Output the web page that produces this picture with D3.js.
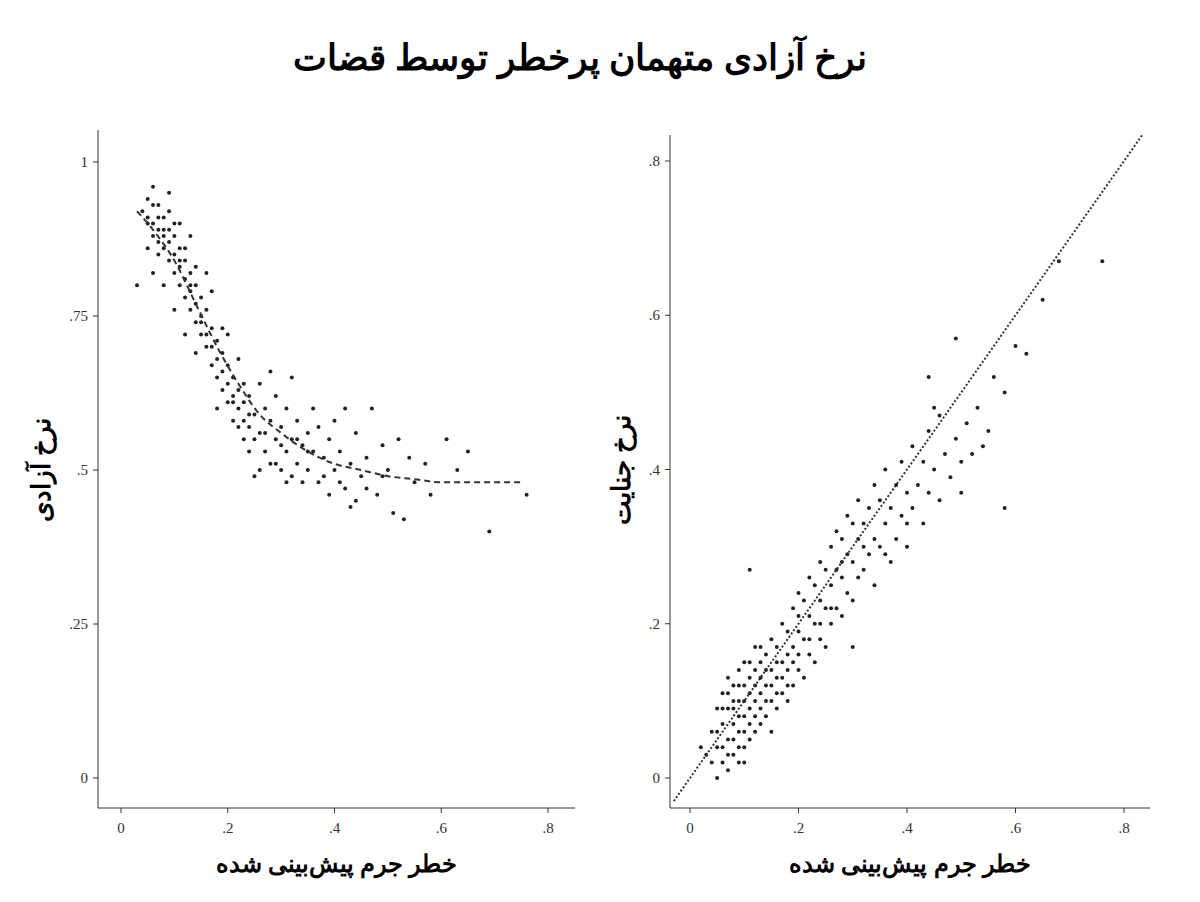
<!DOCTYPE html>
<html><head><meta charset="utf-8">
<script src="https://cdn.jsdelivr.net/npm/d3@7"></script>
<style>body{margin:0;background:#fff}</style>
</head><body>
<script>
// points (x = predicted risk, y = rate)
var releasePts = [
0.04,0.92,0.05,0.94,0.05,0.90,0.06,0.96,0.06,0.88,0.07,0.93,0.07,0.89,0.08,0.91,0.08,0.86,0.09,0.92,0.09,0.84,0.10,0.88,0.10,0.82,0.11,0.86,0.11,0.80,0.12,0.84,0.12,0.78,0.13,0.82,0.13,0.76,0.14,0.80,0.14,0.74,0.15,0.78,0.15,0.72,0.16,0.76,0.16,0.70,0.17,0.73,0.17,0.67,0.18,0.71,0.18,0.65,0.19,0.69,0.19,0.63,0.20,0.67,0.20,0.61,0.21,0.65,0.21,0.58,0.22,0.63,0.22,0.57,0.23,0.61,0.23,0.55,0.24,0.62,0.24,0.53,0.25,0.59,0.25,0.49,0.26,0.64,0.26,0.56,0.27,0.60,0.27,0.53,0.28,0.58,0.28,0.51,0.29,0.62,0.29,0.55,0.30,0.57,0.30,0.50,0.31,0.60,0.31,0.53,0.32,0.55,0.32,0.49,0.33,0.58,0.33,0.51,0.34,0.54,0.34,0.48,0.35,0.56,0.35,0.50,0.36,0.53,0.37,0.57,0.37,0.48,0.38,0.52,0.39,0.55,0.39,0.46,0.40,0.50,0.41,0.53,0.42,0.60,0.42,0.47,0.43,0.51,0.44,0.56,0.45,0.49,0.46,0.52,0.47,0.60,0.48,0.46,0.49,0.54,0.50,0.50,0.51,0.43,0.52,0.55,0.53,0.42,0.55,0.48,0.57,0.51,0.58,0.46,0.61,0.55,0.63,0.50,0.65,0.53,0.69,0.40,0.76,0.46,0.03,0.80,0.05,0.86,0.06,0.82,0.08,0.80,0.09,0.95,0.10,0.76,0.12,0.72,0.13,0.88,0.14,0.69,0.16,0.82,0.18,0.60,0.20,0.72,0.22,0.68,0.24,0.57,0.26,0.50,0.28,0.66,0.30,0.54,0.32,0.65,0.36,0.60,0.40,0.58,0.44,0.45,0.08,0.88,0.07,0.85,0.11,0.90,0.15,0.75,0.17,0.79,0.19,0.73,0.21,0.62,0.23,0.64,0.25,0.55,0.27,0.56,0.29,0.51,0.31,0.48,0.33,0.55,0.35,0.53,0.38,0.49,0.41,0.48,0.43,0.44,0.46,0.47,0.49,0.49,0.54,0.52,
0.05,0.91,0.06,0.93,0.07,0.91,0.08,0.89,0.09,0.87,0.10,0.85,0.11,0.83,0.12,0.81,0.13,0.79,0.14,0.77,0.15,0.74,0.16,0.72,0.17,0.70,0.18,0.68,0.19,0.66,0.20,0.64,0.21,0.61,0.22,0.60,0.23,0.58,0.24,0.59,0.06,0.90,0.07,0.87,0.09,0.89,0.10,0.90,0.11,0.84,0.12,0.86,0.13,0.80,0.14,0.83
];
var releaseCurveX = [0.03,0.06,0.10,0.14,0.18,0.22,0.26,0.30,0.35,0.40,0.45,0.50,0.55,0.60,0.65,0.70,0.75];
var releaseCurveY = [0.92,0.89,0.84,0.77,0.70,0.64,0.59,0.56,0.53,0.51,0.50,0.49,0.485,0.48,0.48,0.48,0.48];

var crimePts = [
0.04,0.02,0.04,0.06,0.05,0.00,0.05,0.04,0.05,0.09,0.06,0.02,0.06,0.07,0.06,0.11,0.07,0.01,0.07,0.05,0.07,0.09,0.08,0.03,0.08,0.07,0.08,0.12,0.09,0.02,0.09,0.06,0.09,0.10,0.09,0.14,0.10,0.04,0.10,0.08,0.10,0.12,0.10,0.15,0.11,0.05,0.11,0.09,0.11,0.13,0.12,0.06,0.12,0.10,0.12,0.14,0.12,0.17,0.13,0.07,0.13,0.11,0.13,0.15,0.14,0.08,0.14,0.12,0.14,0.16,0.15,0.06,0.15,0.10,0.15,0.14,0.15,0.18,0.16,0.09,0.16,0.13,0.16,0.17,0.17,0.11,0.17,0.15,0.17,0.20,0.18,0.10,0.18,0.14,0.18,0.19,0.19,0.12,0.19,0.17,0.19,0.22,0.20,0.14,0.20,0.19,0.20,0.24,0.21,0.13,0.21,0.18,0.21,0.23,0.22,0.16,0.22,0.21,0.22,0.26,0.23,0.15,0.23,0.20,0.23,0.25,0.24,0.18,0.24,0.23,0.24,0.28,0.25,0.17,0.25,0.22,0.25,0.27,0.26,0.20,0.26,0.25,0.26,0.30,0.27,0.22,0.27,0.27,0.27,0.32,0.28,0.21,0.28,0.26,0.28,0.31,0.29,0.24,0.29,0.29,0.29,0.34,0.30,0.23,0.30,0.28,0.30,0.33,0.31,0.26,0.31,0.31,0.31,0.36,0.32,0.27,0.32,0.33,0.33,0.29,0.33,0.35,0.34,0.25,0.34,0.31,0.34,0.38,0.35,0.30,0.35,0.36,0.36,0.33,0.36,0.40,0.37,0.28,0.37,0.35,0.38,0.31,0.38,0.38,0.39,0.34,0.39,0.41,0.40,0.30,0.40,0.37,0.41,0.35,0.41,0.43,0.42,0.38,0.43,0.33,0.43,0.41,0.44,0.45,0.44,0.37,0.45,0.40,0.46,0.47,0.46,0.36,0.47,0.42,0.48,0.39,0.49,0.44,0.50,0.41,0.51,0.46,0.52,0.42,0.53,0.48,0.55,0.45,0.56,0.52,0.58,0.35,0.58,0.50,0.60,0.56,0.62,0.55,0.65,0.62,0.68,0.67,0.76,0.67,0.44,0.52,0.49,0.57,0.11,0.27,0.30,0.17,0.02,0.04,0.03,0.03,0.06,0.04,0.07,0.13,0.08,0.09,0.09,0.04,0.10,0.06,0.11,0.11,0.12,0.08,0.13,0.13,0.14,0.10,0.16,0.11,0.18,0.16,0.20,0.16,0.22,0.18,0.24,0.20,0.26,0.22,0.28,0.28,0.32,0.30,0.36,0.29,0.40,0.33,0.45,0.48,0.50,0.37,0.54,0.43,
0.05,0.06,0.06,0.09,0.07,0.03,0.07,0.11,0.08,0.05,0.08,0.10,0.09,0.08,0.09,0.12,0.10,0.10,0.10,0.02,0.11,0.07,0.11,0.15,0.12,0.12,0.13,0.09,0.13,0.17,0.14,0.14,0.15,0.12,0.16,0.15,0.17,0.13,0.18,0.12,0.19,0.15,0.20,0.21
];
var xTicks = [0, 0.2, 0.4, 0.6, 0.8], xTickLbl = ["0", ".2", ".4", ".6", ".8"];
var yTicksL = [0, 0.25, 0.5, 0.75, 1], yTickLblL = ["0", ".25", ".5", ".75", "1"];
var yTicksR = [0, 0.2, 0.4, 0.6, 0.8], yTickLblR = ["0", ".2", ".4", ".6", ".8"];

var svg = d3.select("body").append("svg").attr("width", 1200).attr("height", 902);
svg.append("text").attr("x", 580).attr("y", 70).attr("text-anchor", "middle")
  .attr("font-family", "Noto Sans").attr("font-weight", "bold").attr("font-size", 36)
  .attr("direction", "rtl").text("نرخ آزادی متهمان پرخطر توسط قضات");

function pairs(a){ var r=[]; for (var i=0;i<a.length;i+=2) r.push([a[i],a[i+1]]); return r; }

function panel(o){
  var x = d3.scaleLinear().domain([0,0.8]).range([o.x0,o.x8]);
  var y = d3.scaleLinear().domain(o.ydom).range(o.yrng);
  var g = svg.append("g");
  // frame lines
  g.append("line").attr("x1",o.left).attr("x2",o.left).attr("y1",o.top).attr("y2",808).attr("stroke","#333");
  g.append("line").attr("x1",o.left).attr("x2",o.right).attr("y1",808).attr("y2",808).attr("stroke","#333");
  g.selectAll(".xt").data(xTicks).enter().append("line").attr("x1",x).attr("x2",x).attr("y1",808).attr("y2",813).attr("stroke","#333");
  g.selectAll(".xl").data(xTicks).enter().append("text").attr("x",x).attr("y",833).attr("text-anchor","middle")
    .attr("font-family","Liberation Serif").attr("font-size",15).attr("fill","#333").text(function(d,i){return xTickLbl[i];});
  g.selectAll(".yt").data(o.yt).enter().append("line").attr("x1",o.left-5).attr("x2",o.left).attr("y1",y).attr("y2",y).attr("stroke","#333");
  g.selectAll(".yl").data(o.yt).enter().append("text").attr("x",o.left-10).attr("y",function(d){return y(d)+5;}).attr("text-anchor","end")
    .attr("font-family","Liberation Serif").attr("font-size",15).attr("fill","#333").text(function(d,i){return o.ytl[i];});
  g.selectAll("circle").data(pairs(o.pts)).enter().append("circle")
    .attr("cx",function(d){return x(d[0]);}).attr("cy",function(d){return y(d[1]);}).attr("r",2).attr("fill","#222");
  g.append("path").datum(o.line).attr("fill","none").attr("stroke","#333").attr("stroke-width",o.lw).attr("stroke-dasharray",o.dash)
    .attr("d", d3.line().curve(d3.curveMonotoneX).x(function(d){return x(d[0]);}).y(function(d){return y(d[1]);}));
  g.append("text").attr("x",(o.left+o.right)/2).attr("y",872).attr("text-anchor","middle").attr("direction","rtl")
    .attr("font-family","Noto Sans").attr("font-weight","bold").attr("font-size",24).text("خطر جرم پیش‌بینی شده");
  g.append("text").attr("transform","translate("+o.ylx+",470) rotate(-90)").attr("text-anchor","middle").attr("direction","rtl")
    .attr("font-family","Noto Sans").attr("font-weight","bold").attr("font-size",26).text(o.ytitle);
}

panel({x0:121,x8:548,left:98,right:575,top:130,ydom:[0,1],yrng:[778,162],yt:yTicksL,ytl:yTickLblL,
  pts:releasePts,line:releaseCurveX.map(function(v,i){return [v,releaseCurveY[i]];}),lw:2,dash:"6,4",ylx:50,ytitle:"نرخ آزادی"});
panel({x0:690,x8:1124,left:670,right:1150,top:135,ydom:[0,0.8],yrng:[778,161],yt:yTicksR,ytl:yTickLblR,
  pts:crimePts,line:[[-0.03,-0.03],[0.835,0.835]],lw:2,dash:"2,2",ylx:630,ytitle:"نرخ جنایت"});
</script>
</body></html>
